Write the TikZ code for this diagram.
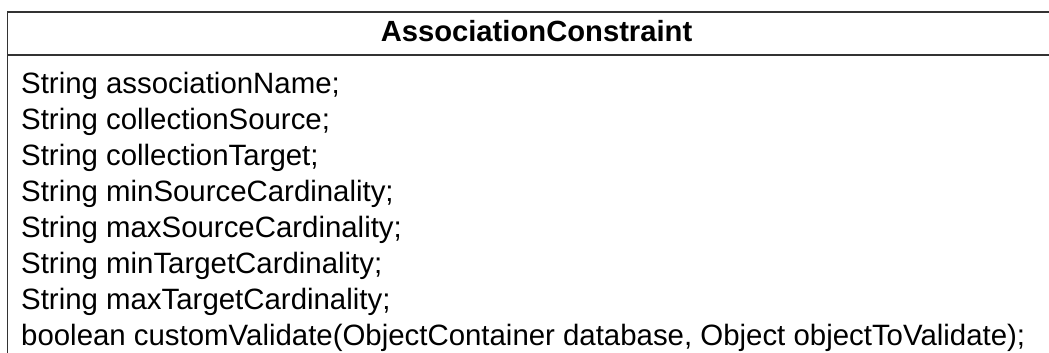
\documentclass[tikz,border=0pt]{standalone}
\usepackage{fontspec}
\setmainfont{Liberation Sans}
\begin{document}
\begin{tikzpicture}[x=1pt,y=1pt,
  boxline/.style={draw=black!80, line width=1.8pt},
  titletext/.style={inner sep=0pt, anchor=base, font=\fontsize{29.2}{36}\selectfont\bfseries},
  membertext/.style={inner sep=0pt, anchor=base west, font=\fontsize{29.4}{36}\selectfont}]
\useasboundingbox (0,0) rectangle (1049,-353);
% class box, running past the right and bottom edges
\begin{scope}
  \clip (0,0) rectangle (1049,-353);
  \draw[boxline] (7.5,-12) rectangle (1075,-420);
  \draw[boxline] (7.5,-55) -- (1075,-55);
\end{scope}
% class name
\node[titletext] (title) at (536.5,-42) {AssociationConstraint};
% members
\node[membertext] (m1) at (21,-93)  {String associationName;};
\node[membertext] (m2) at (21,-129) {String collectionSource;};
\node[membertext] (m3) at (21,-165) {String collectionTarget;};
\node[membertext] (m4) at (21,-201) {String minSourceCardinality;};
\node[membertext] (m5) at (21,-237) {String maxSourceCardinality;};
\node[membertext] (m6) at (21,-273) {String minTargetCardinality;};
\node[membertext] (m7) at (21,-309) {String maxTargetCardinality;};
\node[membertext] (m8) at (21,-345) {boolean customValidate(ObjectContainer database, Object objectToValidate);};
\end{tikzpicture}
\end{document}
